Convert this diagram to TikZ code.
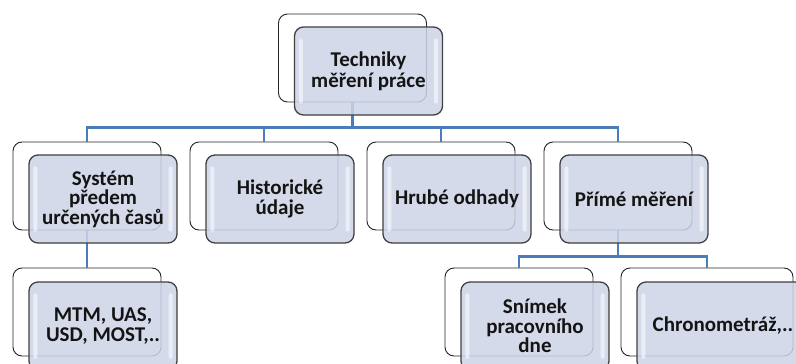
\documentclass[tikz,border=0pt]{standalone}
\usepackage{fontspec}
\setmainfont{Carlito}
\usetikzlibrary{calc}
\definecolor{conncol}{RGB}{74,126,187}
\definecolor{frontfill}{RGB}{205,212,230}
\definecolor{txtcol}{RGB}{20,20,20}
\tikzset{
  backbox/.style={draw=black!85, line width=0.9pt, fill=white, rounded corners=9pt,
    minimum width=148pt, minimum height=88pt, inner sep=0pt},
  frontbox/.style={draw=black!75, line width=1.3pt, fill=frontfill, fill opacity=0.85, text opacity=1,
    rounded corners=9pt, minimum width=148pt, minimum height=88pt, inner sep=0pt,
    align=center, text=txtcol, font=\fontsize{21}{19.5}\selectfont\bfseries},
  conn/.style={draw=conncol, line width=2.2pt},
  gloss/.style={fill=white, opacity=0.55, rounded corners=2pt}
}
\begin{document}
\begin{tikzpicture}[x=1pt,y=-1pt]
\clip (0,0) rectangle (796,364);
\fill[white] (0,0) rectangle (796,364);
% back boxes
\node[backbox] (b0) at (352.5,58) {};
\node[backbox] (b1) at (87,186) {};
\node[backbox] (b2) at (264,186) {};
\node[backbox] (b3) at (441,186) {};
\node[backbox] (b4) at (618,186) {};
\node[backbox] (b5) at (87,312) {};
\node[backbox] (b6) at (519,312) {};
\node[backbox, minimum width=172pt] (b7) at (707,312) {};
% connectors
\draw[conn] (b0.south) -- ++(0,25) -| (b1.north);
\draw[conn] (b0.south) -- ++(0,25) -| (b2.north);
\draw[conn] (b0.south) -- ++(0,25) -| (b3.north);
\draw[conn] (b0.south) -- ++(0,25) -| (b4.north);
\draw[conn] (b1.south) -- (b5.north);
\draw[conn] (b4.south) -- ++(0,26) -| (b6.north);
\draw[conn] (b4.south) -- ++(0,26) -| (b7.north);
% front boxes
\node[frontbox] (f0) at (368.5,71) {Techniky\\[1.5pt]měření práce};
\node[frontbox] (f1) at (103,199) {Systém\\předem\\určených časů};
\node[frontbox] (f2) at (280,199) {Historické\\údaje};
\node[frontbox] (f3) at (457,199) {Hrubé odhady};
\node[frontbox] (f4) at (634,199) {Přímé měření};
\node[frontbox] (f5) at (103,326) {MTM, UAS,\\USD, MOST,..};
\node[frontbox] (f6) at (535,326) {Snímek\\pracovního\\dne};
\node[frontbox, minimum width=172pt] (f7) at (723,326) {Chronometráž,..};
% gloss highlights
\foreach \f in {f0,f1,f2,f3,f4,f5,f6,f7}{
  \fill[gloss] ($(\f.north west)+(5,12)$) rectangle ($(\f.south west)+(9,-12)$);
  \fill[gloss] ($(\f.north east)+(-9,12)$) rectangle ($(\f.south east)+(-5,-12)$);
}
\end{tikzpicture}
\end{document}
